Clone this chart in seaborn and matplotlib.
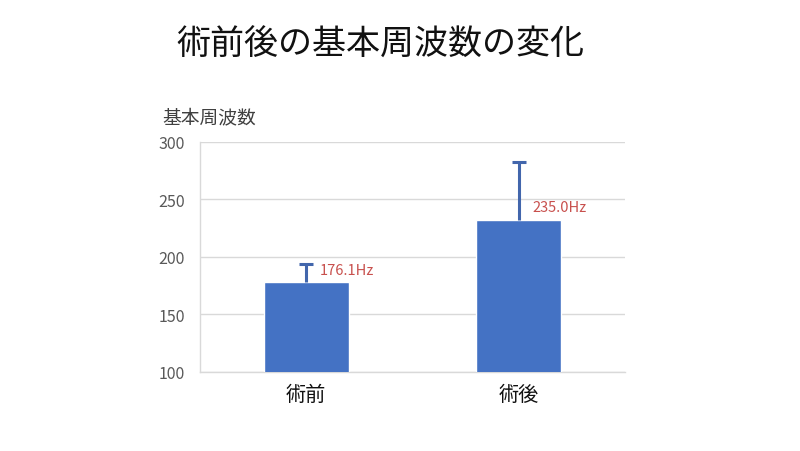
"""Fundamental frequency before and after surgery."""

import pandas as pd
import matplotlib.pyplot as plt
import seaborn as sns

TITLE = "術前後の基本周波数の変化"
YLABEL = "基本周波数"
CATEGORIES = ["術前", "術後"]
MEANS = [178.0, 232.0]
SD_UPPER = [15.6, 50.5]
VALUE_LABELS = ["176.1Hz", "235.0Hz"]
YTICKS = [100, 150, 200, 250, 300]

BAR_COLOR = "#4472C4"
ERR_COLOR = "#4266AC"
LABEL_COLOR = "#C8504D"

sns.set_style("white")
plt.rcParams["font.family"] = ["Noto Sans CJK JP", "DejaVu Sans"]

df = pd.DataFrame({"phase": CATEGORIES, "f0": MEANS})

fig = plt.figure(figsize=(8, 4.52), dpi=100)
ax = fig.add_axes([0.25, 0.175, 0.531, 0.509])

sns.barplot(data=df, x="phase", y="f0", color=BAR_COLOR, width=0.4,
            saturation=1, errorbar=None, ax=ax, zorder=3)
err = ax.errorbar(CATEGORIES, MEANS, yerr=[[0] * len(SD_UPPER), SD_UPPER],
                  fmt="none", ecolor=ERR_COLOR, elinewidth=2.2, capsize=5,
                  capthick=2.2, zorder=4)
# only the upper cap is drawn in the original
err[1][0].set_visible(False)

for i, (val, txt) in enumerate(zip(MEANS, VALUE_LABELS)):
    ax.text(i + 0.065, val + 11, txt, color=LABEL_COLOR, fontsize=10.5,
            va="center", ha="left", zorder=5)

ax.set_ylim(100, 300)
ax.set_yticks(YTICKS)
ax.set_xlim(-0.5, 1.5)
ax.yaxis.grid(True, color="#D9D9D9", linewidth=1, zorder=0)
ax.set_axisbelow(True)
for side in ["top", "right"]:
    ax.spines[side].set_visible(False)
for side in ["left", "bottom"]:
    ax.spines[side].set_color("#D9D9D9")
    ax.spines[side].set_linewidth(1)
ax.tick_params(axis="y", length=0, labelsize=11.5, labelcolor="#595959", pad=11)
ax.tick_params(axis="x", length=0, labelsize=14.5, labelcolor="#111111", pad=9)
ax.set_xlabel("")
ax.set_ylabel("")

fig.text(0.203, 0.739, YLABEL, fontsize=13.5, color="#404040", ha="left", va="center")
fig.text(0.475, 0.9, TITLE, fontsize=24.5, color="#111111", ha="center", va="center")

plt.savefig("out.png", dpi=100, facecolor="white")
plt.close()
